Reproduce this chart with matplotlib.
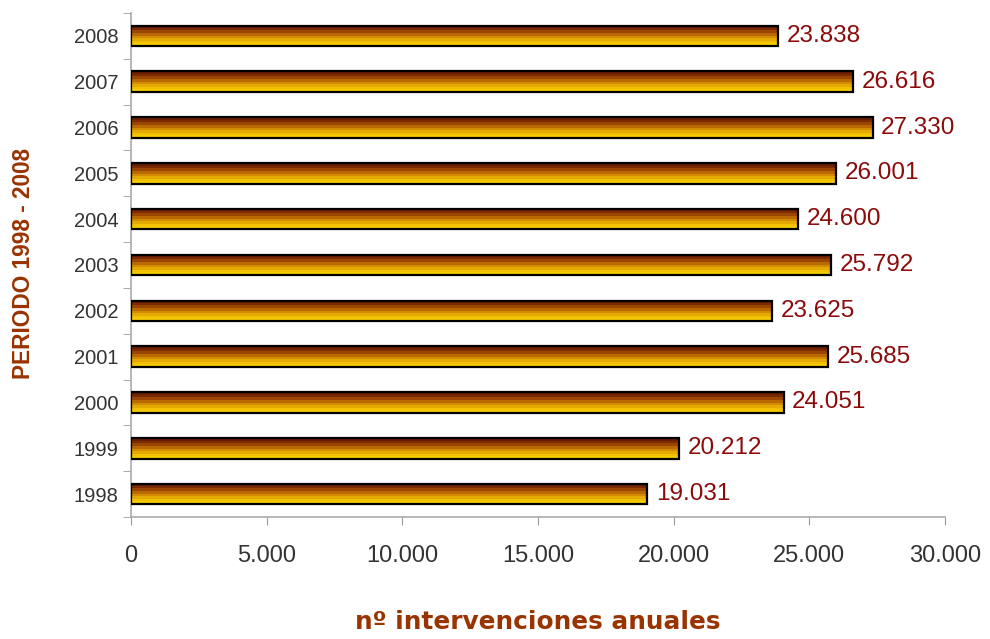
import numpy as np
import matplotlib
matplotlib.use("Agg")
import matplotlib.pyplot as plt
from matplotlib.colors import LinearSegmentedColormap

years = ["1998", "1999", "2000", "2001", "2002", "2003", "2004", "2005", "2006", "2007", "2008"]
values = [19031, 20212, 24051, 25685, 23625, 25792, 24600, 26001, 27330, 26616, 23838]
xticks = [0, 5000, 10000, 15000, 20000, 25000, 30000]
xticklabels = ["0", "5.000", "10.000", "15.000", "20.000", "25.000", "30.000"]

def fmt(v):
    return f"{v:,}".replace(",", ".")

fig = plt.figure(figsize=(9.9, 6.39), dpi=100)
ax = fig.add_axes([0.1323, 0.1909, 0.8222, 0.7888])

ypos = np.arange(len(years))
bars = ax.barh(ypos, values, height=0.45, color="none", edgecolor="black", linewidth=1.6, zorder=3)

cmap = LinearSegmentedColormap.from_list(
    "grad", ["#f7cc00", "#f0be00", "#e2a200", "#c97a00", "#a65000", "#7f2c00", "#6a1e00"], N=8)
grad = np.linspace(0, 1, 256).reshape(-1, 1)
for b in bars:
    x0, y0, w, h = b.get_x(), b.get_y(), b.get_width(), b.get_height()
    im = ax.imshow(grad, cmap=cmap, aspect="auto", origin="lower",
                   extent=[x0, x0 + w, y0, y0 + h], zorder=2, interpolation="nearest")
    im.set_clip_path(b)

for yy, v in zip(ypos, values):
    ax.text(v + 320, yy, fmt(v), va="center", ha="left", color="#8b0a0a",
            fontsize=17.5, family="Liberation Sans")

ax.set_xlim(0, 30000)
ax.set_ylim(-0.5, len(years) - 0.5)
ax.set_xticks(xticks)
ax.set_xticklabels(xticklabels, fontsize=17, color="#333333", family="Liberation Sans")
ax.set_yticks(ypos)
ax.set_yticklabels(years, fontsize=14.5, color="#333333", family="Liberation Sans")
ax.set_yticks(np.arange(-0.5, len(years), 1), minor=True)
ax.tick_params(axis="y", which="major", length=0, pad=9)
ax.tick_params(axis="y", which="minor", length=6, color="#999999", direction="out")
ax.tick_params(axis="x", length=6, color="#999999", direction="out", pad=14)

for s in ["top", "right"]:
    ax.spines[s].set_visible(False)
for s in ["left", "bottom"]:
    ax.spines[s].set_color("#aaaaaa")
    ax.spines[s].set_linewidth(1.2)

ax.set_xlabel("nº intervenciones anuales", fontsize=17.8, fontweight="bold",
              color="#993300", family="DejaVu Sans", labelpad=31)
fig.text(0.024, 0.588, "PERIODO 1998 - 2008", rotation=90, va="center", ha="center",
         fontsize=16.3, fontweight="bold", color="#993300", family="Liberation Sans")

fig.savefig("out.png", dpi=100)
